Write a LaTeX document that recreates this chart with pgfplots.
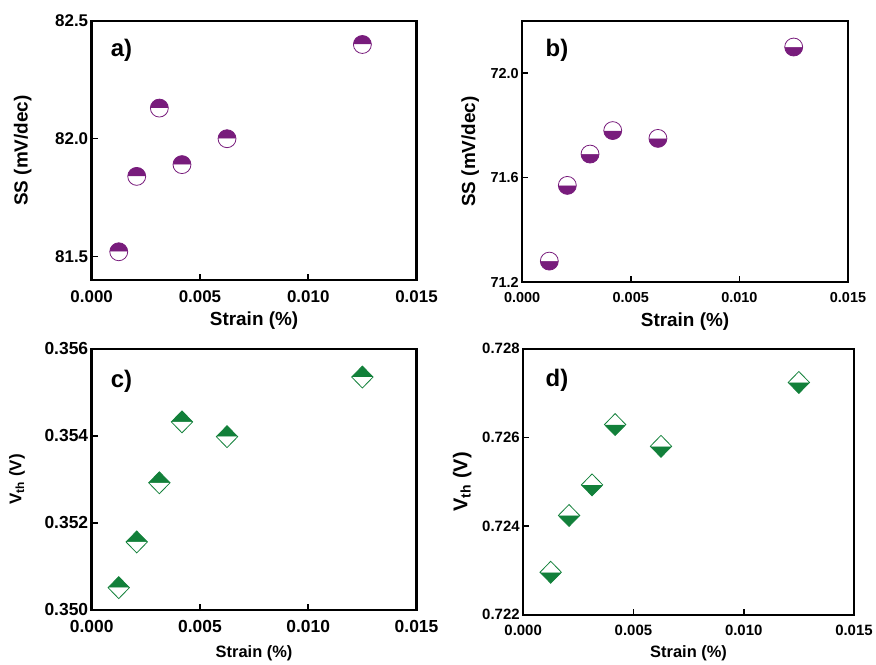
\documentclass[border=0pt]{standalone}
\usepackage{fontspec}
\setmainfont{Liberation Sans}
\usepackage{pgfplots}
\pgfplotsset{compat=1.18}
\usetikzlibrary{plotmarks}

\definecolor{ssPurple}{RGB}{120,28,124}
\definecolor{vGreen}{RGB}{18,128,58}

\newcommand{\fs}[1]{\fontsize{#1}{#1}\selectfont\bfseries}

\pgfplotsset{
  panel/.style={
    scale only axis,
    anchor=north west,
    xmin=0, xmax=0.015,
    xtick={0,0.005,0.010,0.015},
    scaled x ticks=false,
    scaled y ticks=false,
    tick align=inside,
    tick pos=left,
    axis line style={line width=2.4pt},
    major tick length=6pt,
    tick style={line width=1.6pt, black},
    x tick label style={yshift=-7pt, /pgf/number format/fixed, /pgf/number format/fixed zerofill, /pgf/number format/precision=3},
    /pgf/number format/assume math mode=true,
    xlabel={Strain (\%)},
    clip=false,
  },
}

\begin{document}
\begin{tikzpicture}
\path (0pt,0pt) rectangle (876pt,-665pt);

% a)
\begin{axis}[panel, at={(92pt,-21pt)}, width=326pt, height=260pt,
  ymin=81.4, ymax=82.5, ytick={81.5,82.0,82.5},
  y tick label style={/pgf/number format/fixed, /pgf/number format/fixed zerofill, /pgf/number format/precision=1},
  tick label style={font=\fs{17}},
  ylabel={SS (mV/dec)},
  ylabel style={font=\fs{19}, at={(axis description cs:-0.212,0.5)}, anchor=center},
  xlabel style={font=\fs{19}, at={(axis description cs:0.5,-0.158)}, anchor=center}]
\addplot[only marks, mark=halfcircle*, mark size=9pt,
  mark options={draw=ssPurple, fill=ssPurple, line width=0.8pt}]
  coordinates {(0.00125,81.52) (0.00208,81.84) (0.003125,82.13) (0.00417,81.89) (0.00625,82.00) (0.0125,82.40)};
\end{axis}

% b)
\begin{axis}[panel, at={(524pt,-21pt)}, width=327pt, height=262pt,
  ymin=71.2, ymax=72.2, ytick={71.2,71.6,72.0},
  y tick label style={/pgf/number format/fixed, /pgf/number format/fixed zerofill, /pgf/number format/precision=1},
  tick label style={font=\fs{14.5}},
  ylabel={SS (mV/dec)},
  ylabel style={font=\fs{19}, at={(axis description cs:-0.159,0.5)}, anchor=center},
  xlabel style={font=\fs{19}, at={(axis description cs:0.5,-0.153)}, anchor=center}]
\addplot[only marks, mark=halfcircle*, mark size=9pt,
  mark options={draw=ssPurple, fill=ssPurple, line width=0.8pt, rotate=180}]
  coordinates {(0.00125,71.28) (0.00208,71.57) (0.003125,71.69) (0.00417,71.78) (0.00625,71.75) (0.0125,72.10)};
\end{axis}

% c)
\begin{axis}[panel, at={(92pt,-350pt)}, width=326pt, height=262pt,
  ymin=0.350, ymax=0.356, ytick={0.350,0.352,0.354,0.356},
  y tick label style={/pgf/number format/fixed, /pgf/number format/fixed zerofill, /pgf/number format/precision=3},
  tick label style={font=\fs{17.5}},
  ylabel={V\textsubscript{th} (V)},
  ylabel style={font=\fs{17}, at={(axis description cs:-0.230,0.5)}, anchor=center},
  xlabel style={font=\fs{16.5}, at={(axis description cs:0.5,-0.168)}, anchor=center}]
\addplot[only marks, mark=halfdiamond*, mark size=11pt,
  mark options={draw=vGreen, fill=vGreen, line width=0.8pt, xscale=1.3, rotate=180}]
  coordinates {(0.00125,0.35051) (0.00208,0.35156) (0.003125,0.35292) (0.00417,0.35432) (0.00625,0.35398) (0.0125,0.35535)};
\end{axis}

% d)
\begin{axis}[panel, at={(525pt,-350pt)}, width=332pt, height=267pt,
  ymin=0.722, ymax=0.728, ytick={0.722,0.724,0.726,0.728},
  y tick label style={/pgf/number format/fixed, /pgf/number format/fixed zerofill, /pgf/number format/precision=3},
  tick label style={font=\fs{15}},
  ylabel={V\textsubscript{th} (V)},
  ylabel style={font=\fs{20}, at={(axis description cs:-0.184,0.5)}, anchor=center},
  xlabel style={font=\fs{16.5}, at={(axis description cs:0.5,-0.146)}, anchor=center}]
\addplot[only marks, mark=halfdiamond*, mark size=11pt,
  mark options={draw=vGreen, fill=vGreen, line width=0.8pt, xscale=1.3}]
  coordinates {(0.00125,0.72296) (0.00208,0.72424) (0.003125,0.72493) (0.00417,0.72629) (0.00625,0.72580) (0.0125,0.72724)};
\end{axis}

\node[font=\fs{24}] at (122pt,-50pt) {a)};
\node[font=\fs{24}] at (559pt,-50pt) {b)};
\node[font=\fs{24}] at (122pt,-383pt) {c)};
\node[font=\fs{24}] at (559pt,-382pt) {d)};
\end{tikzpicture}
\end{document}
